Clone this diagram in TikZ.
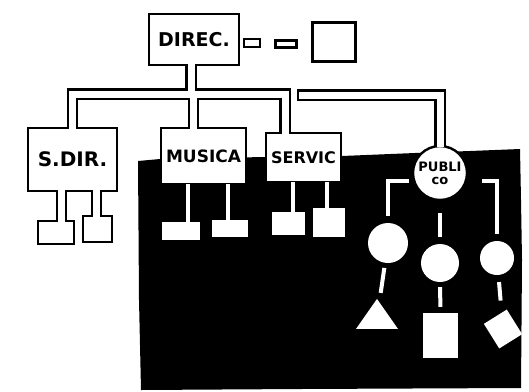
\documentclass[tikz,border=0pt]{standalone}
\usepackage{fontspec}
\newfontfamily\hand{DejaVu Sans}
\usetikzlibrary{shapes.geometric}
\tikzset{
box/.style={draw, line width=2.4pt, fill=white, inner sep=0pt, font=\hand\bfseries\fontsize{17}{17}\selectfont},
blob/.style={circle, fill=white, inner sep=0pt},
tile/.style={rectangle, fill=white, inner sep=0pt},
pipe/.style={draw=black, line width=2.2pt, double=white, double distance=7pt, line join=miter},
wire/.style={draw=white, line width=4pt},
}

\begin{document}
\begin{tikzpicture}[x=1pt, y=-1pt]
    \useasboundingbox (0,0) rectangle (529,391);
    \fill (138,161) -- (160,159) -- (265,157) -- (342,156) -- (415,153) -- (470,151) -- (520,149) -- (521,200) -- (522,260) -- (521,388) -- (300,389) -- (141,390) -- (139,300) -- cycle;

    \node[box, minimum width=90pt, minimum height=51pt, font=\hand\bfseries\fontsize{19}{19}\selectfont] (direc) at (194,39.5) {DIREC.};
    \node[box, minimum width=16pt, minimum height=8pt] (aux1) at (252,43) {};
    \node[box, minimum width=21pt, minimum height=7pt] (aux2) at (286,44) {};
    \node[box, minimum width=43pt, minimum height=39pt] (aux3) at (334,42) {};

    \node[box, minimum width=89pt, minimum height=63pt, font=\hand\bfseries\fontsize{20}{20}\selectfont] (sdir) at (72.5,159.5) {S.DIR.};
    \node[box, minimum width=36pt, minimum height=23pt] (sd1) at (56,232.5) {};
    \node[box, minimum width=29pt, minimum height=26pt] (sd2) at (97.5,229) {};

    \node[box, minimum width=85pt, minimum height=56pt] (musica) at (203.5,156) {MUSICA};
    \node[tile, minimum width=38pt, minimum height=18pt] (mc1) at (181,231) {};
    \node[tile, minimum width=36pt, minimum height=17pt] (mc2) at (230,228.5) {};

    \node[box, minimum width=75pt, minimum height=49pt, font=\hand\bfseries\fontsize{16}{16}\selectfont] (servic) at (303.5,157.5) {SERVIC};
    \node[tile, minimum width=33pt, minimum height=23pt] (sc1) at (288.5,223.5) {};
    \node[tile, minimum width=32pt, minimum height=29pt] (sc2) at (329,222.5) {};

    \node[box, circle, minimum size=54pt, align=center, font=\hand\bfseries\fontsize{13}{13}\selectfont] (publico) at (440,173) {PUBLI\\co};
    \node[blob, minimum size=40pt] (pc1) at (388,243) {};
    \node[blob, minimum size=38pt] (pc2) at (440,263) {};
    \node[blob, minimum size=34pt] (pc3) at (497,258) {};
    \node[isosceles triangle, isosceles triangle stretches, shape border rotate=90, fill=white, inner sep=0pt, minimum width=42pt, minimum height=30pt] (pt) at (377,318) {};
    \node[tile, minimum width=35pt, minimum height=45pt] (pr) at (440.5,335.5) {};
    \node[tile, minimum width=27pt, minimum height=29pt, rotate=32] (pd) at (503,329) {};

    \coordinate (busM) at (285,94);
    \coordinate (busS) at (298,95);
    \coordinate (busR) at (440,95);

    \draw[pipe] ([yshift=-2pt]sdir.north) |- (busM) -- ([xshift=-18.5pt,yshift=-2pt]servic.north)
        ([xshift=-3pt,yshift=2pt]direc.south) |- (busM)
        ([xshift=-10pt,yshift=-2pt]musica.north) |- (busM);
    \draw[pipe] (busS) -- (busR) -- ([yshift=-2pt]publico.north);
    \draw[line width=2.2pt] ([yshift=5.7pt]busS) -- ([yshift=-5.7pt]busS);
    \draw[pipe] ([xshift=-11pt,yshift=2pt]sdir.south) -- ([xshift=5.5pt,yshift=-2pt]sd1.north)
        ([xshift=24pt,yshift=2pt]sdir.south) -- ([xshift=-1pt,yshift=-2pt]sd2.north);

    \draw[wire] ([xshift=-15.5pt,yshift=1.5pt]musica.south) -- ([xshift=7pt]mc1.north);
    \draw[wire] ([xshift=24.5pt,yshift=1.5pt]musica.south) -- ([xshift=-2pt]mc2.north);
    \draw[wire] ([xshift=-10.5pt,yshift=1.5pt]servic.south) -- ([xshift=4.5pt]sc1.north);
    \draw[wire] ([xshift=23.5pt,yshift=1.5pt]servic.south) -- ([xshift=-2pt]sc2.north);

    \draw[wire, shorten <=4pt, shorten >=7pt] (publico.197) -| (pc1.north);
    \draw[wire, shorten <=12pt, shorten >=7pt] (publico) -- (pc2);
    \draw[wire, shorten <=15pt, shorten >=7pt] (publico.343) -| (pc3.north);
    \draw[wire, shorten <=5pt, shorten >=9pt] (pc1) -- (pt);
    \draw[wire, shorten <=5pt, shorten >=6pt] (pc2) -- (pr);
    \draw[wire, shorten <=7pt, shorten >=12pt] (pc3) -- (pd);
\end{tikzpicture}
\end{document}
